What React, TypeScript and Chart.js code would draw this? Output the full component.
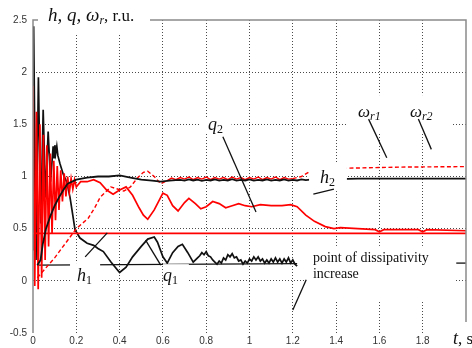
import React, { useEffect, useRef } from 'react';
import { Chart, registerables } from 'chart.js';

Chart.register(...registerables);

// ---------- axes ----------
const xTicks = [0, 0.2, 0.4, 0.6, 0.8, 1, 1.2, 1.4, 1.6, 1.8, 2];
const xTickLabels = ['0', '0.2', '0.4', '0.6', '0.8', '1', '1.2', '1.4', '1.6', '1.8', ''];
const yTicks = [-0.5, 0, 0.5, 1, 1.5, 2, 2.5];
const yTickLabels = ['-0.5', '0', '0.5', '1', '1.5', '2', '2.5'];

// ---------- h1 (black, spiky start, decaying tail) ----------
const h1T = [0, 0.003, 0.014, 0.025, 0.036, 0.047, 0.058, 0.07, 0.081, 0.093,
  0.097, 0.101, 0.105, 0.11, 0.115, 0.125, 0.14, 0.157, 0.171, 0.18,
  0.194, 0.217, 0.25, 0.28, 0.3, 0.325, 0.36, 0.4, 0.43, 0.46,
  0.5, 0.53, 0.56, 0.575, 0.6, 0.62, 0.645, 0.67, 0.69, 0.715, 0.74,
  0.76, 0.77, 0.78, 0.79, 0.8, 0.81, 0.82, 0.83, 0.84, 0.85,
  0.86, 0.87, 0.88, 0.89, 0.9, 0.91, 0.92, 0.93, 0.94, 0.95,
  0.96, 0.97, 0.98, 0.99, 1.0, 1.01, 1.02, 1.03, 1.04, 1.05,
  1.06, 1.07, 1.08, 1.09, 1.1, 1.11, 1.12, 1.13, 1.14, 1.15,
  1.16, 1.17, 1.18, 1.19, 1.2, 1.21, 1.22];
const h1V = [0.3, 2.44, 0.2, 1.95, 0.55, 1.64, 0.8, 1.43, 0.95, 1.29,
  1.18, 1.3, 1.22, 1.29, 1.2, 1.12, 1.02, 0.94, 0.8, 0.68,
  0.49, 0.41, 0.36, 0.34, 0.31, 0.28, 0.18, 0.08, 0.13, 0.23,
  0.33, 0.4, 0.42, 0.37, 0.23, 0.17, 0.27, 0.33, 0.35, 0.27, 0.18,
  0.22, 0.24, 0.27, 0.25, 0.28, 0.24, 0.23, 0.2, 0.18, 0.16,
  0.19, 0.17, 0.22, 0.2, 0.25, 0.23, 0.26, 0.22, 0.23, 0.19,
  0.2, 0.16, 0.19, 0.17, 0.21, 0.19, 0.23, 0.2, 0.23, 0.19,
  0.21, 0.17, 0.2, 0.17, 0.21, 0.18, 0.22, 0.18, 0.21, 0.17,
  0.21, 0.18, 0.22, 0.17, 0.2, 0.16, 0.14];

// ---------- q2 (red, fast oscillation then slow waves) ----------
const q2T = [0, 0.008, 0.016, 0.024, 0.032, 0.04, 0.048, 0.056, 0.064, 0.072,
  0.08, 0.088, 0.096, 0.104, 0.112, 0.12, 0.128, 0.136, 0.144, 0.152,
  0.16, 0.168, 0.176, 0.184, 0.192, 0.2,
  0.22, 0.25, 0.28, 0.31, 0.34, 0.37, 0.4, 0.43, 0.46, 0.49,
  0.51, 0.53, 0.56, 0.6, 0.62, 0.645, 0.67, 0.7, 0.72, 0.75,
  0.775, 0.8, 0.83, 0.86, 0.89, 0.92, 0.95, 0.98, 1.01, 1.05,
  1.1, 1.15, 1.19, 1.22, 1.26, 1.3, 1.35, 1.39, 1.42, 1.5,
  1.58, 1.6, 1.62, 1.78, 1.8, 1.82, 2.0];
const q2V = [1.87, -0.05, 1.62, -0.08, 1.5, 0.03, 1.4, 0.2, 1.3, 0.33,
  1.22, 0.45, 1.15, 0.58, 1.1, 0.68, 1.06, 0.76, 1.03, 0.81,
  1.0, 0.85, 0.98, 0.88, 0.97, 0.9,
  0.95, 0.95, 0.97, 0.94, 0.87, 0.83, 0.87, 0.9, 0.82, 0.7,
  0.63, 0.59, 0.68, 0.84, 0.82, 0.72, 0.67, 0.75, 0.79, 0.74,
  0.69, 0.71, 0.76, 0.74, 0.7, 0.72, 0.74, 0.72, 0.71, 0.73,
  0.72, 0.72, 0.73, 0.71, 0.63, 0.57, 0.52, 0.5, 0.51, 0.5,
  0.49, 0.47, 0.49, 0.49, 0.47, 0.49, 0.48];

// ---------- ωr1 (red dashed, noisy solid-looking middle) ----------
const wT = [0.02, 0.1, 0.2, 0.255, 0.285, 0.31, 0.36, 0.39, 0.42, 0.45,
  0.48, 0.51, 0.53, 0.56, 0.59,
  0.62, 0.64, 0.66, 0.68, 0.7, 0.72, 0.74, 0.76, 0.78, 0.8,
  0.82, 0.84, 0.86, 0.88, 0.9, 0.92, 0.94, 0.96, 0.98, 1.0,
  1.02, 1.04, 1.06, 1.08, 1.1, 1.12, 1.14, 1.16, 1.18, 1.2,
  1.24, 1.28, 1.35, 1.46, 1.7, 2.0];
const wV = [0.03, 0.22, 0.5, 0.6, 0.7, 0.8, 0.9, 0.88, 0.86, 0.9,
  0.98, 1.04, 1.05, 1.0, 0.93,
  0.96, 0.985, 0.97, 0.99, 0.975, 0.995, 0.97, 0.99, 0.975, 0.995,
  0.97, 0.99, 0.975, 0.99, 0.97, 0.995, 0.975, 0.99, 0.97, 0.99,
  0.975, 0.995, 0.97, 0.99, 0.975, 0.995, 0.97, 0.99, 0.975, 0.98,
  1.0, 1.05, 1.07, 1.08, 1.09, 1.095];
const wSolidFrom = 0.62;
const wSolidTo = 1.2;

// ---------- h (black, rising to ~1) ----------
const hT = [0.02, 0.035, 0.045, 0.06, 0.08, 0.1, 0.12, 0.14, 0.16, 0.2,
  0.25, 0.3, 0.35, 0.4, 0.45, 0.5, 0.55, 0.59, 0.63, 0.66,
  0.68, 0.7, 0.72, 0.74, 0.76, 0.78, 0.8, 0.82, 0.84, 0.86,
  0.88, 0.9, 0.92, 0.94, 0.96, 0.98, 1.0, 1.02, 1.04, 1.06,
  1.08, 1.1, 1.12, 1.14, 1.16, 1.18, 1.2, 1.22, 1.24, 1.26,
  1.28, 1.32, 1.5, 2.0];
const hV = [0.15, 0.2, 0.35, 0.5, 0.62, 0.72, 0.8, 0.87, 0.93, 0.97,
  0.99, 1.0, 1.0, 1.01, 0.99, 0.97, 0.96, 0.95, 0.96, 0.965,
  0.968, 0.96, 0.972, 0.962, 0.97, 0.958, 0.968, 0.962, 0.972, 0.96,
  0.968, 0.962, 0.974, 0.96, 0.968, 0.962, 0.972, 0.96, 0.968, 0.962,
  0.972, 0.96, 0.968, 0.962, 0.972, 0.96, 0.968, 0.962, 0.972, 0.965,
  0.97, 0.97, 0.98, 0.98];

// ---------- flat lines ----------
const redFlatT = [0, 2];
const redFlatV = [0.455, 0.455];
const baseT = [0.02, 1.22];
const baseV = [0.15, 0.165];
const q1EndT = [1.955, 2.0];
const q1EndV = [0.17, 0.17];

// ---------- annotation leaders (data units) ----------
const leadT0 = [0.241, 0.52, 0.877, 1.295, 1.55, 1.78, 1.2];
const leadV0 = [0.23, 0.39, 1.38, 0.83, 1.55, 1.55, -0.28];
const leadT1 = [0.343, 0.59, 1.03, 1.39, 1.634, 1.84, 1.262];
const leadV1 = [0.46, 0.15, 0.66, 0.88, 1.18, 1.26, 0.01];

// ---------- label background boxes (data units) ----------
const boxT0 = [0.171, 0.6, 0.773, 1.275, 1.45, 1.26];
const boxT1 = [0.31, 0.72, 0.917, 1.45, 1.935, 1.95];
const boxV0 = [0.17, 0.16, 1.56, 1.13, 1.78, 0.335];
const boxV1 = [-0.09, -0.09, 1.41, 0.86, 1.42, -0.185];

// ---------- curve labels ----------
const labelMain = ['h', 'q', 'q', 'h', 'ω', 'ω'];
const labelSub = ['1', '1', '2', '2', 'r1', 'r2'];
const labelT = [0.203, 0.6, 0.808, 1.326, 1.501, 1.741];
const labelV = [0.0, 0.0, 1.445, 0.94, 1.57, 1.57];
const noteLines = ['point of dissipativity', 'increase'];
const noteT = 1.293;
const noteV = [0.18, 0.027];

const SERIF = '"Liberation Serif", "Times New Roman", serif';
const SANS = '"Liberation Sans", Arial, sans-serif';

const pts = (t: number[], v: number[]) => t.map((x, i) => ({ x, y: v[i] }));

type Part = { s: string; it?: boolean; sz: number; sub?: boolean };
function drawParts(ctx: CanvasRenderingContext2D, x: number, y: number, parts: Part[]) {
  let cx = x;
  ctx.textAlign = 'left';
  ctx.textBaseline = 'alphabetic';
  ctx.fillStyle = '#111';
  for (const p of parts) {
    ctx.font = `${p.it ? 'italic ' : ''}${p.sz}px ${SERIF}`;
    ctx.fillText(p.s, cx, y + (p.sub ? 3 : 0));
    cx += ctx.measureText(p.s).width;
  }
}

const overlay = {
  id: 'overlay',
  afterDatasetsDraw(chart: any) {
    const { ctx, chartArea: a, scales } = chart;
    const X = (t: number) => scales.x.getPixelForValue(t);
    const Y = (v: number) => scales.y.getPixelForValue(v);
    ctx.save();
    // frame (left, top, right)
    ctx.strokeStyle = '#8a8a8a';
    ctx.lineWidth = 1.5;
    ctx.setLineDash([]);
    ctx.beginPath();
    ctx.moveTo(a.left, a.bottom);
    ctx.lineTo(a.left, a.top);
    ctx.lineTo(a.right, a.top);
    ctx.lineTo(a.right, a.bottom);
    ctx.stroke();
    // white boxes behind labels
    ctx.fillStyle = '#fff';
    for (let i = 0; i < boxT0.length; i++) {
      const x0 = X(boxT0[i]), x1 = X(boxT1[i]);
      const y0 = Y(boxV0[i]), y1 = Y(boxV1[i]);
      ctx.fillRect(x0, y0, x1 - x0, y1 - y0);
    }
    // title box and axis-name box
    ctx.fillRect(a.left + 5, 6, 112, a.top + 14 - 6);
    ctx.fillRect(a.right - 18, a.bottom - 11, 40, 40);
    // leaders
    ctx.strokeStyle = '#111';
    ctx.lineWidth = 1.3;
    for (let i = 0; i < leadT0.length; i++) {
      ctx.beginPath();
      ctx.moveTo(X(leadT0[i]), Y(leadV0[i]));
      ctx.lineTo(X(leadT1[i]), Y(leadV1[i]));
      ctx.stroke();
    }
    // curve labels
    for (let i = 0; i < labelMain.length; i++) {
      const omega = labelMain[i] === 'ω';
      drawParts(ctx, X(labelT[i]), Y(labelV[i]), [
        { s: labelMain[i], it: true, sz: omega ? 17 : 18 },
        { s: labelSub[i], it: omega, sz: 12, sub: true },
      ]);
    }
    // note
    for (let i = 0; i < noteLines.length; i++) {
      drawParts(ctx, X(noteT), Y(noteV[i]), [{ s: noteLines[i], sz: 14 }]);
    }
    // title
    drawParts(ctx, a.left + 15, a.top + 1, [
      { s: 'h, q, ω', it: true, sz: 19 },
      { s: 'r', it: true, sz: 12, sub: true },
      { s: ', r.u.', sz: 17 },
    ]);
    // x axis name
    drawParts(ctx, a.right - 13, a.bottom + 11, [
      { s: 't', it: true, sz: 18 },
      { s: ', s', sz: 17 },
    ]);
    ctx.restore();
  },
};

export default function App() {
  const ref = useRef<HTMLCanvasElement>(null);
  useEffect(() => {
    if (!ref.current) return;
    const gridColorX = (c: any) => (c.tick && (c.tick.value === 0 || c.tick.value === 2) ? 'rgba(0,0,0,0)' : '#4a4a4a');
    const gridColorY = (c: any) => (c.tick && (c.tick.value === -0.5 || c.tick.value === 2.5) ? 'rgba(0,0,0,0)' : '#4a4a4a');
    const chart = new Chart(ref.current, {
      type: 'line',
      data: {
        datasets: [
          { label: 'h', data: pts(hT, hV), borderColor: '#111', borderWidth: 1.8 },
          {
            label: 'wr1', data: pts(wT, wV), borderColor: '#f00', borderWidth: 1.4, borderDash: [4, 2.5],
            segment: {
              borderDash: (c: any) => (c.p0.parsed.x >= wSolidFrom - 1e-6 && c.p1.parsed.x <= wSolidTo + 1e-6 ? [] : undefined),
            },
          },
          { label: 'q2', data: pts(q2T, q2V), borderColor: '#f00', borderWidth: 1.7 },
          { label: 'flat', data: pts(redFlatT, redFlatV), borderColor: '#f00', borderWidth: 1.6 },
          { label: 'h1', data: pts(h1T, h1V), borderColor: '#111', borderWidth: 1.7 },
          { label: 'base', data: pts(baseT, baseV), borderColor: '#111', borderWidth: 1.3 },
          { label: 'q1end', data: pts(q1EndT, q1EndV), borderColor: '#111', borderWidth: 1.3 },
        ] as any,
      },
      options: {
        animation: false,
        responsive: false,
        maintainAspectRatio: false,
        layout: { padding: { top: 20, right: 6, left: 0, bottom: 0 } },
        plugins: { legend: { display: false }, tooltip: { enabled: false } },
        elements: { point: { radius: 0 }, line: { tension: 0 } },
        scales: {
          x: {
            type: 'linear', min: 0, max: 2,
            afterBuildTicks: (s: any) => { s.ticks = xTicks.map((value) => ({ value })); },
            afterFit: (s: any) => { s.height = 15; },
            ticks: {
              callback: (_v: any, i: number) => xTickLabels[i] ?? '',
              font: { family: SANS, size: 10 }, color: '#333', padding: 2, maxRotation: 0, autoSkip: false,
            },
            grid: { color: gridColorX, drawTicks: false, lineWidth: 1 },
            border: { display: false, dash: [1, 2] },
          },
          y: {
            type: 'linear', min: -0.5, max: 2.5,
            afterBuildTicks: (s: any) => { s.ticks = yTicks.map((value) => ({ value })); },
            afterFit: (s: any) => { s.width = 33; },
            ticks: {
              callback: (_v: any, i: number) => yTickLabels[i] ?? '',
              font: { family: SANS, size: 10 }, color: '#333', padding: 6, autoSkip: false,
            },
            grid: { color: gridColorY, drawTicks: false, lineWidth: 1 },
            border: { display: false, dash: [1, 2] },
          },
        },
      } as any,
      plugins: [overlay],
    });
    return () => chart.destroy();
  }, []);
  return (
    <div style={{ position: 'fixed', left: 0, top: 0, width: 472, height: 348, background: '#fff' }}>
      <canvas ref={ref} width={472} height={348} style={{ display: 'block' }} />
    </div>
  );
}
